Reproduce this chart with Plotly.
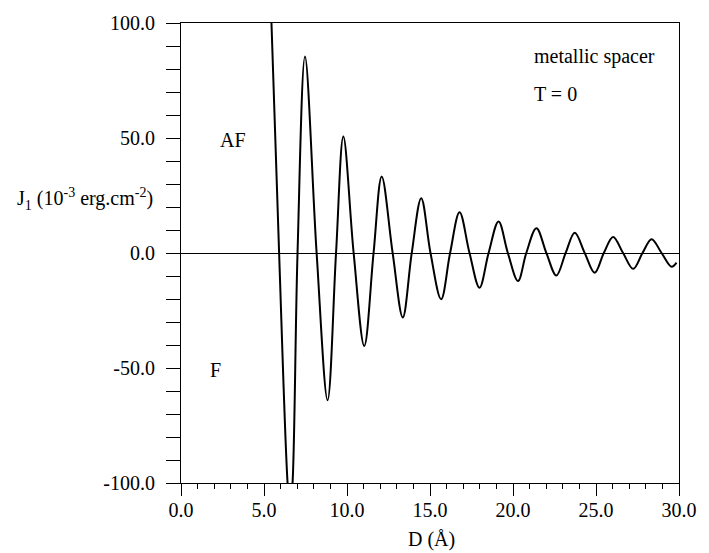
import plotly.graph_objects as go

# Curve: extrema and zero crossings of J1(D)
d_values = [5.45, 5.91, 6.42, 6.57, 6.72, 7.02, 7.47, 8.17, 8.83, 9.34, 9.78, 10.40,
            11.04, 11.60, 12.09, 12.75, 13.36, 13.90, 14.47, 15.03, 15.67, 16.21,
            16.78, 17.38, 17.98, 18.53, 19.13, 19.69, 20.30, 20.80, 21.41, 22.01,
            22.61, 23.17, 23.72, 24.32, 24.92, 25.47, 26.03, 26.63, 27.24, 27.80,
            28.35, 28.95, 29.55, 29.85]
j1_values = [100.0, 0.0, -100.0, -112.0, -100.0, 0.0, 85.4, 0.0, -64.0, 0.0, 50.6, 0.0,
             -40.4, 0.0, 33.3, 0.0, -28.0, 0.0, 23.8, 0.0, -20.1, 0.0,
             17.7, 0.0, -15.1, 0.0, 13.7, 0.0, -12.2, 0.0, 10.8, 0.0,
             -9.8, 0.0, 8.8, 0.0, -8.6, 0.0, 7.0, 0.0, -6.9, 0.0,
             6.0, 0.0, -6.0, -4.2]

x_ticks = [0, 5, 10, 15, 20, 25, 30]
x_tick_labels = ["0.0", "5.0", "10.0", "15.0", "20.0", "25.0", "30.0"]
y_ticks = [-100, -50, 0, 50, 100]
y_tick_labels = ["-100.0", "-50.0", "0.0", "50.0", "100.0"]

FONT = "Liberation Serif"

fig = go.Figure()
fig.add_trace(go.Scatter(
    x=d_values, y=j1_values, mode="lines",
    line=dict(color="black", width=2, shape="spline", smoothing=1.0),
    showlegend=False, hoverinfo="skip"))

fig.update_layout(
    width=709, height=553,
    margin=dict(l=181, r=30, t=16, b=70),
    paper_bgcolor="white", plot_bgcolor="white",
    font=dict(family=FONT, size=20, color="black"),
    showlegend=False,
)

fig.update_xaxes(
    range=[0, 30], showgrid=False, zeroline=False,
    showline=True, linecolor="black", linewidth=1, mirror=True,
    ticks="outside", ticklen=12, tickwidth=1, tickcolor="black",
    tickvals=x_ticks, ticktext=x_tick_labels, ticklabelstandoff=-3,
    tickfont=dict(family=FONT, size=20, color="black"),
    minor=dict(dtick=1, ticks="outside", ticklen=5, tickwidth=1, tickcolor="black", showgrid=False),
)
fig.update_yaxes(
    range=[-100, 100], showgrid=False,
    zeroline=True, zerolinecolor="black", zerolinewidth=1,
    showline=True, linecolor="black", linewidth=1, mirror=True,
    ticks="outside", ticklen=14, tickwidth=1, tickcolor="black",
    tickvals=y_ticks, ticktext=y_tick_labels, ticklabelstandoff=7,
    tickfont=dict(family=FONT, size=20, color="black"),
    minor=dict(dtick=10, ticks="outside", ticklen=14, tickwidth=1, tickcolor="black", showgrid=False),
)

annots = [
    dict(text="J<sub>1</sub> (10<sup>-3</sup> erg.cm<sup>-2</sup>)", x=-0.052, y=0.617,
         xanchor="right", yanchor="middle"),
    dict(text="AF", x=0.104, y=0.745, xanchor="center", yanchor="middle"),
    dict(text="F", x=0.070, y=0.246, xanchor="center", yanchor="middle"),
    dict(text="metallic spacer", x=0.705, y=0.927, xanchor="left", yanchor="middle"),
    dict(text="T = 0", x=0.705, y=0.845, xanchor="left", yanchor="middle"),
    dict(text="D (Å)", x=0.504, y=-0.122, xanchor="center", yanchor="middle"),
]
for a in annots:
    fig.add_annotation(xref="paper", yref="paper", showarrow=False,
                       font=dict(family=FONT, size=20, color="black"), **a)

fig.write_html("out.html")
